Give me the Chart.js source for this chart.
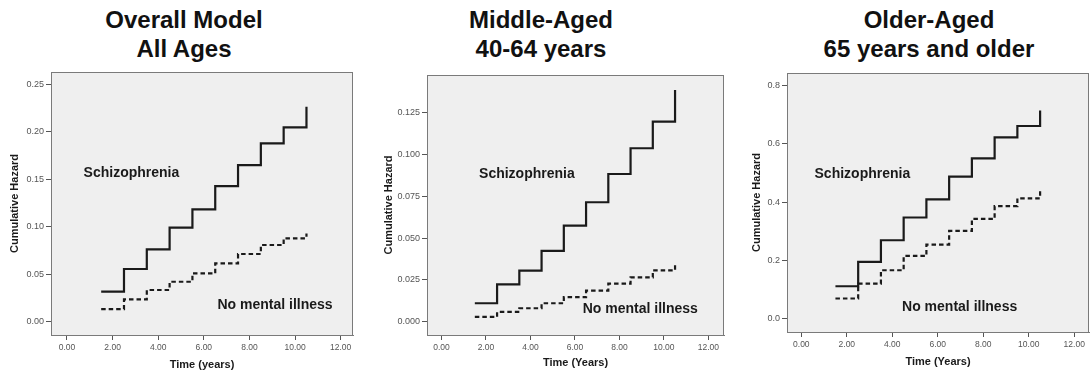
<!DOCTYPE html>
<html lang="en">
<head>
    <meta charset="UTF-8">
    <title>Cumulative Hazard</title>
    <script src="https://cdn.jsdelivr.net/npm/chart.js"></script>
    <style>
        body { margin: 0; background: #fff; width: 1091px; height: 378px; position: relative; overflow: hidden; font-family: "Liberation Sans", Arial, sans-serif; }
        .ttl { position: absolute; top: 5px; width: 360px; text-align: center; font-weight: bold; font-size: 24px; line-height: 29px; color: #111; }
        canvas { position: absolute; top: 60px; }
    </style>
</head>
<body>
    <div class="ttl" style="left:4px">Overall Model<br>All Ages</div>
    <div class="ttl" style="left:361px">Middle-Aged<br>40-64 years</div>
    <div class="ttl" style="left:749px">Older-Aged<br>65 years and older</div>

    <canvas id="allAges" width="360" height="318" style="left:0px"></canvas>
    <canvas id="middleAged" width="360" height="318" style="left:370px"></canvas>
    <canvas id="olderAged" width="361" height="318" style="left:730px"></canvas>

    <script>
        // step change times (years)
        const stepTimes = [1.5, 2.5, 3.5, 4.5, 5.5, 6.5, 7.5, 8.5, 9.5, 10.5];
        const xTicks = [0, 2, 4, 6, 8, 10, 12];

        // cumulative hazard
        const allSchizo = [0.0316, 0.0555, 0.0762, 0.099, 0.1183, 0.1429, 0.165, 0.1878, 0.2047, 0.2265];
        const allNone   = [0.0133, 0.0235, 0.0334, 0.0421, 0.0509, 0.0614, 0.0713, 0.0808, 0.0878, 0.093];
        const midSchizo = [0.011, 0.0223, 0.0305, 0.0423, 0.0574, 0.0714, 0.0883, 0.1037, 0.1196, 0.1386];
        const midNone   = [0.0028, 0.0058, 0.008, 0.011, 0.0146, 0.0185, 0.0227, 0.0265, 0.0307, 0.0353];
        const oldSchizo = [0.111, 0.195, 0.269, 0.347, 0.409, 0.487, 0.55, 0.622, 0.661, 0.714];
        const oldNone   = [0.069, 0.12, 0.166, 0.215, 0.254, 0.301, 0.342, 0.386, 0.413, 0.441];

        const allYTicks = [0, 0.05, 0.10, 0.15, 0.20, 0.25];
        const midYTicks = [0, 0.025, 0.05, 0.075, 0.1, 0.125];
        const oldYTicks = [0, 0.2, 0.4, 0.6, 0.8];

        // text labels inside the plots, in data units [x, y]
        const allLabels = [[0.73, 0.157], [6.6, 0.0176]];
        const midLabels = [[1.69, 0.0883], [6.35, 0.0076]];
        const oldLabels = [[0.58, 0.496], [4.43, 0.038]];
        const labelText = ['Schizophrenia', 'No mental illness'];

        const FONT = '"Liberation Sans", Arial, sans-serif';

        const framePlugin = {
            id: 'frame',
            beforeDraw(chart) {
                const a = chart.chartArea, ctx = chart.ctx;
                ctx.save();
                ctx.fillStyle = '#efefef';
                ctx.fillRect(a.left, a.top, a.right - a.left, a.bottom - a.top);
                ctx.restore();
            },
            afterDraw(chart) {
                const a = chart.chartArea, ctx = chart.ctx;
                ctx.save();
                ctx.strokeStyle = '#7a7a7a';
                ctx.lineWidth = 1;
                ctx.strokeRect(a.left + 0.5, a.top + 0.5, a.right - a.left - 1, a.bottom - a.top);
                // group labels
                const pos = chart.options.plugins.frame.labels;
                ctx.fillStyle = '#1a1a1a';
                ctx.font = 'bold 14px ' + FONT;
                ctx.textBaseline = 'middle';
                ctx.textAlign = 'left';
                pos.forEach((p, i) => {
                    ctx.fillText(labelText[i], chart.scales.x.getPixelForValue(p[0]), chart.scales.y.getPixelForValue(p[1]));
                });
                ctx.restore();
            }
        };

        function pts(vals) {
            return stepTimes.map((t, i) => ({ x: t, y: vals[i] }));
        }

        function makeChart(id, c) {
            const ctx = document.getElementById(id).getContext('2d');
            return new Chart(ctx, {
                type: 'line',
                data: {
                    datasets: [
                        {
                            label: 'Schizophrenia',
                            data: pts(c.schizo),
                            borderColor: '#1a1a1a',
                            borderWidth: 2.2,
                            stepped: 'before',
                            pointRadius: 0,
                            fill: false
                        },
                        {
                            label: 'No mental illness',
                            data: pts(c.none),
                            borderColor: '#1a1a1a',
                            borderWidth: 2.2,
                            borderDash: [4.5, 3],
                            stepped: 'before',
                            pointRadius: 0,
                            fill: false
                        }
                    ]
                },
                options: {
                    responsive: false,
                    animation: false,
                    devicePixelRatio: 1,
                    layout: { padding: c.pad },
                    plugins: {
                        legend: { display: false },
                        tooltip: { enabled: false },
                        frame: { labels: c.labels }
                    },
                    scales: {
                        x: {
                            type: 'linear',
                            min: c.xMin,
                            max: c.xMax,
                            afterBuildTicks: s => { s.ticks = xTicks.map(v => ({ value: v })); },
                            afterFit: s => { s.height = c.xHeight; },
                            grid: { drawOnChartArea: false, drawTicks: true, tickLength: 5, color: '#555' },
                            border: { display: true, color: '#7a7a7a' },
                            ticks: {
                                padding: 3,
                                color: '#555',
                                font: { family: FONT, size: 8.5 },
                                maxRotation: 0,
                                callback: v => v.toFixed(2)
                            },
                            title: {
                                display: true,
                                text: c.xTitle,
                                color: '#1a1a1a',
                                font: { family: FONT, size: 11, weight: 'bold' },
                                padding: { top: 0, bottom: c.xTitlePad }
                            }
                        },
                        y: {
                            min: c.yMin,
                            max: c.yMax,
                            afterBuildTicks: s => { s.ticks = c.yTicks.map(v => ({ value: v })); },
                            afterFit: s => { s.width = c.yWidth; },
                            grid: { drawOnChartArea: false, drawTicks: true, tickLength: 5, color: '#555' },
                            border: { display: true, color: '#7a7a7a' },
                            ticks: {
                                padding: 2,
                                color: '#555',
                                font: { family: FONT, size: 9 },
                                callback: v => v.toFixed(c.yDigits)
                            },
                            title: {
                                display: true,
                                text: 'Cumulative Hazard',
                                color: '#1a1a1a',
                                font: { family: FONT, size: 11, weight: 'bold' },
                                padding: { top: c.yTitlePad, bottom: 0 }
                            }
                        }
                    }
                },
                plugins: [framePlugin]
            });
        }

        makeChart('allAges', {
            schizo: allSchizo, none: allNone, labels: allLabels,
            xMin: -0.7, xMax: 12.54, yMin: -0.014, yMax: 0.263,
            yTicks: allYTicks, yDigits: 2,
            pad: { top: 12, right: 7, bottom: 0, left: 0 },
            yWidth: 51, xHeight: 43, yTitlePad: 8.4, xTitlePad: 6.4,
            xTitle: 'Time (years)'
        });

        makeChart('middleAged', {
            schizo: midSchizo, none: midNone, labels: midLabels,
            xMin: -0.65, xMax: 12.7, yMin: -0.008, yMax: 0.1475,
            yTicks: midYTicks, yDigits: 3,
            pad: { top: 15, right: 6, bottom: 0, left: 0 },
            yWidth: 57, xHeight: 43, yTitlePad: 12.4, xTitlePad: 8.1,
            xTitle: 'Time (Years)'
        });

        makeChart('olderAged', {
            schizo: oldSchizo, none: oldNone, labels: oldLabels,
            xMin: -0.63, xMax: 12.65, yMin: -0.046, yMax: 0.843,
            yTicks: oldYTicks, yDigits: 1,
            pad: { top: 13, right: 2, bottom: 0, left: 0 },
            yWidth: 57, xHeight: 46, yTitlePad: 20, xTitlePad: 9.7,
            xTitle: 'Time (Years)'
        });
    </script>
</body>
</html>
